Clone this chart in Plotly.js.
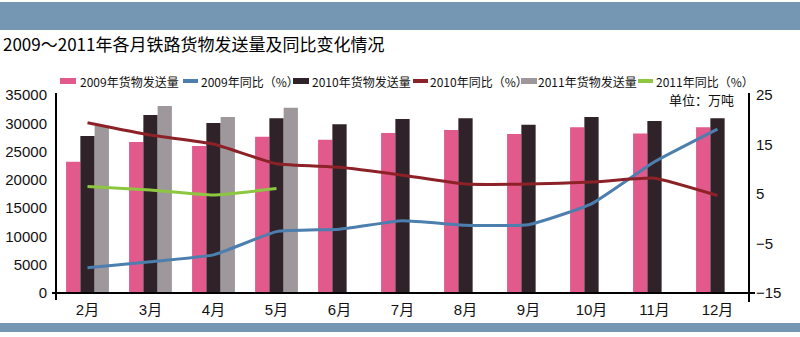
<!DOCTYPE html>
<html>
<head>
<meta charset="utf-8">
<script src="https://cdn.plot.ly/plotly-3.0.1.min.js"></script>
<style>html,body{margin:0;padding:0;background:#fff;}#chart{width:800px;height:337px;}</style>
</head>
<body>
<div id="chart"></div>
<script>
// ---- data ----
const months = ["2月","3月","4月","5月","6月","7月","8月","9月","10月","11月","12月"];
const vol2009 = [23200, 26700, 26000, 27600, 27100, 28300, 28800, 28100, 29300, 28200, 29300];
const vol2010 = [27750, 31450, 30050, 30900, 29850, 30750, 30900, 29750, 31100, 30400, 30900];
const vol2011 = [29550, 33050, 31100, 32750, null, null, null, null, null, null, null];
const yoy2009 = [-9.9, -8.7, -7.3, -2.6, -2.1, -0.4, -1.3, -1.2, 3.0, 11.5, 18.1];
const yoy2010 = [19.4, 16.9, 15.1, 11.1, 10.4, 8.8, 7.0, 7.0, 7.4, 8.2, 4.7];
const yoy2011 = [6.5, 5.8, 4.8, 6.1, null, null, null, null, null, null, null];
const names = ["2009年货物发送量","2009年同比（%）","2010年货物发送量","2010年同比（%）","2011年货物发送量","2011年同比（%）"];
const titleText = "2009～2011年各月铁路货物发送量及同比变化情况";
const unitText = "单位：万吨";

// ---- styles ----
const C = {pink:"#E2598C", black:"#2F2329", gray:"#9E979B", blue:"#4C7EAE", red:"#8C2228", green:"#8DC641", band:"#7697B4"};
const CJK = "Noto Sans CJK SC";
const NUM = "Liberation Sans, Noto Sans CJK SC";

const Wd = 800, Ht = 337, M = {l:56, r:51, t:95, b:44};
const PW = Wd - M.l - M.r, PH = Ht - M.t - M.b;
const fx = px => (px - M.l) / PW;
const fy = py => (Ht - M.b - py) / PH;

const traces = [
  {type:"bar", name:names[0], x:months, y:vol2009, marker:{color:C.pink}, yaxis:"y"},
  {type:"bar", name:names[2], x:months, y:vol2010, marker:{color:C.black}, yaxis:"y"},
  {type:"bar", name:names[4], x:months, y:vol2011, marker:{color:C.gray}, yaxis:"y"},
  {type:"scatter", mode:"lines", name:names[1], x:months, y:yoy2009, yaxis:"y2", line:{color:C.blue, width:3, shape:"spline", smoothing:0.4}},
  {type:"scatter", mode:"lines", name:names[3], x:months, y:yoy2010, yaxis:"y2", line:{color:C.red, width:3, shape:"spline", smoothing:0.4}},
  {type:"scatter", mode:"lines", name:names[5], x:months, y:yoy2011, yaxis:"y2", line:{color:C.green, width:3, shape:"spline", smoothing:0.4}}
];

// legend (manual)
const legendItems = [
  {name:names[0], kind:"rect", color:C.pink, sx:60, tx:79},
  {name:names[1], kind:"line", color:C.blue, sx:183, tx:200},
  {name:names[2], kind:"rect", color:C.black, sx:293, tx:311},
  {name:names[3], kind:"line", color:C.red, sx:413, tx:429},
  {name:names[4], kind:"rect", color:C.gray, sx:521, tx:537},
  {name:names[5], kind:"line", color:C.green, sx:638, tx:655}
];
const legY = 81;
const shapes = [
  // banners
  {type:"rect", xref:"paper", yref:"paper", x0:fx(0), x1:fx(800), y0:fy(2), y1:fy(30), fillcolor:C.band, line:{width:0}, layer:"below"},
  {type:"rect", xref:"paper", yref:"paper", x0:fx(0), x1:fx(800), y0:fy(323), y1:fy(332), fillcolor:C.band, line:{width:0}, layer:"below"},
  // axes
  {type:"line", xref:"paper", yref:"paper", x0:fx(56), x1:fx(56), y0:fy(93), y1:fy(300), line:{color:"#000", width:2}},
  {type:"line", xref:"paper", yref:"paper", x0:fx(749), x1:fx(749), y0:fy(93), y1:fy(302), line:{color:"#000", width:2}},
  {type:"line", xref:"paper", yref:"paper", x0:fx(52), x1:fx(755), y0:fy(293), y1:fy(293), line:{color:"#000", width:2}}
];
const annotations = [
  {text:unitText, xref:"paper", yref:"paper", x:fx(736), y:fy(99), xanchor:"right", yanchor:"middle", showarrow:false, font:{family:CJK, size:13, color:"#111"}}
];
legendItems.forEach(it => {
  if (it.kind === "rect") {
    shapes.push({type:"rect", xref:"paper", yref:"paper", x0:fx(it.sx), x1:fx(it.sx+16), y0:fy(legY-3), y1:fy(legY+3), fillcolor:it.color, line:{width:0}});
  } else {
    shapes.push({type:"line", xref:"paper", yref:"paper", x0:fx(it.sx), x1:fx(it.sx+15), y0:fy(legY), y1:fy(legY), line:{color:it.color, width:4}});
  }
  annotations.push({text:it.name, xref:"paper", yref:"paper", x:fx(it.tx), y:fy(legY), xanchor:"left", yanchor:"middle", showarrow:false, borderpad:0, font:{family:CJK, size:12, color:"#111"}});
});

const layout = {
  width:Wd, height:Ht, margin:M,
  paper_bgcolor:"#fff", plot_bgcolor:"#fff",
  showlegend:false,
  barmode:"group", bargap:0.32, bargroupgap:0,
  title:{text:titleText, x:3/800, xanchor:"left", xref:"container", y:1-45/337, yanchor:"middle", yref:"container", font:{family:CJK, size:17, color:"#000"}},
  xaxis:{type:"category", showline:false, showgrid:false, zeroline:false, ticks:"", tickfont:{family:NUM, size:15, color:"#111"}, ticklabelstandoff:6},
  yaxis:{range:[0,35000], dtick:5000, tick0:0, tickformat:"d", showline:false, showgrid:false, zeroline:false, ticks:"", tickfont:{family:NUM, size:15, color:"#111"}, ticklabelstandoff:8},
  yaxis2:{overlaying:"y", side:"right", range:[-15,25], dtick:10, tick0:-15, showline:false, showgrid:false, zeroline:false, ticks:"", tickfont:{family:NUM, size:15, color:"#111"}, ticklabelstandoff:6},
  shapes:shapes,
  annotations:annotations
};

Plotly.newPlot("chart", traces, layout, {staticPlot:true, displayModeBar:false});
</script>
</body>
</html>
